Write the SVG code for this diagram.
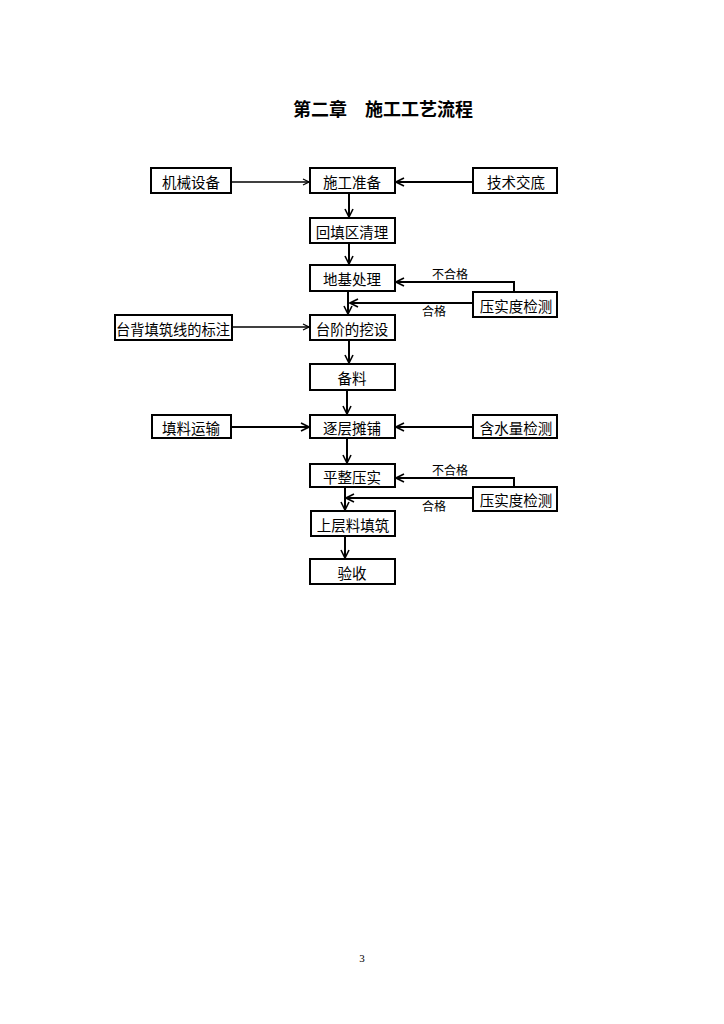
<svg xmlns="http://www.w3.org/2000/svg" width="724" height="1024" viewBox="0 0 724 1024">
<style>
.box{fill:#fff;stroke:#000;stroke-width:2}
.t{font-family:"Noto Sans CJK SC","Noto Sans",sans-serif;font-size:14.5px;fill:#000;text-anchor:middle;dominant-baseline:central}
.lbl{font-family:"Noto Sans CJK SC","Noto Sans",sans-serif;font-size:12px;fill:#000}
.ln{fill:none;stroke:#000;stroke-width:2;marker-end:url(#ah)}
.thin{stroke-width:1.5}
</style>
<defs>
<marker id="ah" viewBox="0 0 10 10" refX="9" refY="5" markerWidth="5" markerHeight="5" markerUnits="strokeWidth" orient="auto">
<path d="M1,1 L9,5 L1,9" fill="none" stroke="#000" stroke-width="1.6"/>
</marker>
</defs>
<rect width="724" height="1024" fill="#fff"/>
<text x="383" y="108" font-family="'Noto Sans CJK SC',sans-serif" font-size="18" font-weight="bold" text-anchor="middle" dominant-baseline="central">第二章　施工工艺流程</text>
<g id="connectors">
<path class="ln thin" d="M231,182 H309"/>
<path class="ln" d="M473,182 H396"/>
<path class="ln" d="M349,193 V217"/>
<path class="ln" d="M349,243 V264"/>
<path class="ln" d="M514,292 V282 H396"/>
<path class="ln" d="M473,303 H350"/>
<path class="ln" d="M348,291 V314"/>
<path class="ln thin" d="M232,327 H309"/>
<path class="ln" d="M349,340 V363"/>
<path class="ln" d="M347,390 V414"/>
<path class="ln" d="M231,427 H309"/>
<path class="ln" d="M473,427 H396"/>
<path class="ln" d="M347,438 V463"/>
<path class="ln" d="M514,487 V478 H396"/>
<path class="ln" d="M473,498 H346"/>
<path class="ln" d="M345,487 V510"/>
<path class="ln" d="M345,536 V558"/>
<text class="lbl" x="432" y="279">不合格</text>
<text class="lbl" x="422" y="316">合格</text>
<text class="lbl" x="432" y="475">不合格</text>
<text class="lbl" x="422" y="511">合格</text>
</g>
<g id="n1"><rect class="box" x="151" y="168" width="80" height="25"/><text class="t" x="191" y="181">机械设备</text></g>
<g id="n2"><rect class="box" x="310" y="168" width="85" height="25"/><text class="t" x="352" y="181">施工准备</text></g>
<g id="n3"><rect class="box" x="473" y="168" width="84" height="25"/><text class="t" x="516" y="181">技术交底</text></g>
<g id="n4"><rect class="box" x="310" y="218" width="85" height="25"/><text class="t" x="352" y="231">回填区清理</text></g>
<g id="n5"><rect class="box" x="310" y="265" width="85" height="26"/><text class="t" x="352" y="278">地基处理</text></g>
<g id="n6"><rect class="box" x="473" y="292" width="84" height="25"/><text class="t" x="516" y="305">压实度检测</text></g>
<g id="n7"><rect class="box" x="115" y="315" width="117" height="25"/><text class="t" x="173" y="328" textLength="114" lengthAdjust="spacingAndGlyphs">台背填筑线的标注</text></g>
<g id="n8"><rect class="box" x="310" y="315" width="85" height="25"/><text class="t" x="352" y="328">台阶的挖设</text></g>
<g id="n9"><rect class="box" x="310" y="364" width="85" height="26"/><text class="t" x="352" y="377">备料</text></g>
<g id="n10"><rect class="box" x="152" y="415" width="79" height="23"/><text class="t" x="191" y="427">填料运输</text></g>
<g id="n11"><rect class="box" x="310" y="415" width="85" height="23"/><text class="t" x="352" y="427">逐层摊铺</text></g>
<g id="n12"><rect class="box" x="473" y="415" width="84" height="23"/><text class="t" x="516" y="427">含水量检测</text></g>
<g id="n13"><rect class="box" x="310" y="464" width="85" height="23"/><text class="t" x="352" y="476">平整压实</text></g>
<g id="n14"><rect class="box" x="473" y="487" width="84" height="24"/><text class="t" x="516" y="499">压实度检测</text></g>
<g id="n15"><rect class="box" x="311" y="511" width="84" height="25"/><text class="t" x="353" y="524">上层料填筑</text></g>
<g id="n16"><rect class="box" x="310" y="559" width="85" height="25"/><text class="t" x="352" y="572">验收</text></g>
<text x="362" y="962" font-family="'Liberation Serif',serif" font-size="11" text-anchor="middle">3</text>
</svg>
